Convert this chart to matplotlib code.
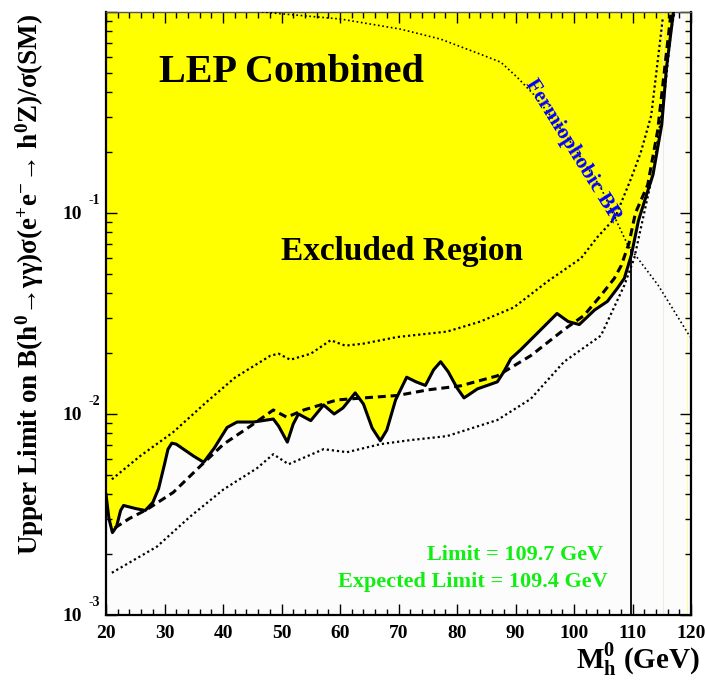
import numpy as np
import matplotlib
matplotlib.use("Agg")
import matplotlib.pyplot as plt
from matplotlib.ticker import MultipleLocator, LogLocator, NullFormatter

plt.rcParams['font.family'] = ['Liberation Serif', 'DejaVu Serif']
plt.rcParams['font.weight'] = 'bold'
plt.rcParams['mathtext.fontset'] = 'custom'
plt.rcParams['mathtext.rm'] = 'Liberation Serif:bold'
plt.rcParams['mathtext.it'] = 'Liberation Serif:bold'
plt.rcParams['mathtext.bf'] = 'Liberation Serif:bold'
plt.rcParams['mathtext.fallback'] = 'stix'

# Observed 95% CL upper limit (log10 of the ratio)
obs_mass = [20.0, 20.5, 21.1, 21.8, 22.5, 23.0, 25.0, 26.7, 28.0, 29.0, 30.0,
            30.6, 31.25, 32.0, 33.0, 35.0, 36.7, 38.5, 40.7, 42.4, 45.2, 48.6,
            49.5, 51.0, 52.0, 52.9, 55.0, 57.2, 59.0, 60.5, 62.6, 64.0, 65.5,
            66.9, 68.0, 69.5, 71.4, 73.0, 74.6, 76.0, 77.2, 78.5, 80.0, 81.2,
            83.5, 86.9, 88.0, 89.2, 90.9, 94.0, 97.1, 99.0, 100.9, 103.5,
            105.7, 107.4, 108.6, 109.8, 111.0, 112.5, 113.5, 115.0, 115.8,
            117.0]
obs_log = [-2.40, -2.52, -2.59, -2.56, -2.48, -2.455, -2.47, -2.48, -2.44,
           -2.37, -2.25, -2.175, -2.145, -2.15, -2.17, -2.21, -2.24, -2.17,
           -2.067, -2.04, -2.04, -2.025, -2.06, -2.14, -2.05, -2.0, -2.033,
           -1.955, -2.0, -1.97, -1.895, -1.95, -2.07, -2.133, -2.08, -1.93,
           -1.817, -1.84, -1.858, -1.78, -1.74, -1.79, -1.87, -1.92, -1.875,
           -1.84, -1.79, -1.725, -1.68, -1.59, -1.50, -1.54, -1.555, -1.483,
           -1.44, -1.375, -1.325, -1.21, -1.04, -0.90, -0.81, -0.56, -0.28,
           0.0]

# Median expected limit
exp_mass = [21.5, 24.0, 27.0, 31.5, 36.1, 40.1, 44.7, 48.6, 50.9, 53.8, 59.5,
            64.0, 69.8, 75.0, 80.6, 86.9, 92.6, 98.3, 101.7, 104.6, 106.9,
            108.1, 109.4, 110.5, 112.6, 114.3, 115.5, 116.6]
exp_log = [-2.567, -2.52, -2.475, -2.39, -2.26, -2.15, -2.06, -1.98, -2.016,
           -1.98, -1.93, -1.92, -1.908, -1.88, -1.86, -1.81, -1.71, -1.58,
           -1.51, -1.41, -1.325, -1.26, -1.15, -1.0, -0.86, -0.59, -0.28, 0.0]

# One-sigma band around the expectation
up_mass = [21.0, 25.8, 31.5, 37.2, 42.0, 48.1, 49.5, 51.5, 55.0, 58.4, 60.9,
           64.0, 69.8, 78.3, 84.0, 89.7, 95.5, 101.2, 104.0, 107.0, 109.8,
           111.4, 113.2, 115.2]
up_log = [-2.325, -2.21, -2.09, -1.94, -1.82, -1.71, -1.70, -1.73, -1.70,
          -1.633, -1.66, -1.65, -1.617, -1.59, -1.54, -1.47, -1.34, -1.225,
          -1.12, -1.025, -0.825, -0.70, -0.515, -0.025]

lo_mass = [21.0, 28.7, 34.4, 40.1, 45.8, 48.6, 51.2, 57.2, 61.2, 66.9, 72.0,
           78.3, 86.9, 92.6, 98.3, 104.6, 108.6, 110.3, 113.5, 115.4, 116.6,
           117.2]
lo_log = [-2.79, -2.66, -2.51, -2.375, -2.27, -2.20, -2.25, -2.175, -2.19,
          -2.15, -2.13, -2.11, -2.03, -1.925, -1.74, -1.61, -1.36, -1.225,
          -0.80, -0.425, -0.09, 0.0]

# Fermiophobic branching-ratio prediction
fp_mass = [40.0, 50.4, 60.1, 70.3, 77.2, 84.0, 87.5, 90.3, 93.1, 98.9, 104.6,
           109.2, 114.4, 119.5, 120.0]
fp_log = [0.02, -0.01, -0.035, -0.085, -0.135, -0.21, -0.25, -0.325, -0.41,
          -0.625, -0.875, -1.16, -1.36, -1.60, -1.62]

obs_limit = 109.7
exp_limit = 109.4

x_ticks = [20, 30, 40, 50, 60, 70, 80, 90, 100, 110, 120]
y_decades = [-3, -2, -1]

obs_y = 10.0 ** np.array(obs_log)
exp_y = 10.0 ** np.array(exp_log)
up_y = 10.0 ** np.array(up_log)
lo_y = 10.0 ** np.array(lo_log)
fp_y = 10.0 ** np.array(fp_log)

fig = plt.figure(figsize=(7.05, 6.83), dpi=100)
ax = fig.add_axes([106 / 705, 68 / 683, 585 / 705, 603 / 683])
ax.set_facecolor('#fcfcfc')
ax.set_xlim(20, 120)
ax.set_yscale('log')
ax.set_ylim(1e-3, 1.0)

# excluded region above the observed limit
ax.fill_between(obs_mass, obs_y, 1.0, color='#ffff00', lw=0, zorder=1)
ax.axvline(115.2, color='#ecece0', lw=0.7, zorder=1.5)
ax.axvline(119.4, color='#ffffa0', lw=0.7, zorder=1.5)

ax.plot(fp_mass, fp_y, color='black', lw=1.2, dashes=(1.0, 1.6), zorder=3)
ax.plot(up_mass, up_y, color='black', lw=1.6, dashes=(1.0, 1.3), zorder=3)
ax.plot(lo_mass, lo_y, color='black', lw=1.6, dashes=(1.0, 1.3), zorder=3)
ax.plot(exp_mass, exp_y, color='black', lw=2.2, dashes=(2.6, 1.6), zorder=4)
ax.plot(obs_mass, obs_y, color='black', lw=2.2, zorder=5)

# vertical marker at the observed limit
top = 10.0 ** np.interp(obs_limit, fp_mass, fp_log)
ax.vlines(obs_limit, 1e-3, top, color='black', lw=1.3, zorder=5)

# axes styling
for side in ['left', 'bottom', 'right']:
    ax.spines[side].set_linewidth(1.6)
ax.spines['top'].set_linewidth(1.0)
ax.spines['top'].set_color('#555555')
ax.xaxis.set_major_locator(MultipleLocator(10))
ax.xaxis.set_minor_locator(MultipleLocator(2))
ax.yaxis.set_major_locator(LogLocator(base=10, numticks=10))
ax.yaxis.set_minor_locator(LogLocator(base=10, subs=np.arange(2, 10), numticks=20))
ax.yaxis.set_major_formatter(NullFormatter())
ax.yaxis.set_minor_formatter(NullFormatter())
ax.tick_params(which='both', direction='in', top=True, right=True, width=1.0)
ax.tick_params(which='major', length=8)
ax.tick_params(which='minor', length=4)
ax.set_xticks(x_ticks)
ax.set_xticklabels([str(t) for t in x_ticks], fontsize=14, fontweight='bold')
ax.tick_params(axis='x', which='major', pad=7)

for d in y_decades:
    ax.annotate('10', xy=(0, 10.0 ** d), xycoords=('axes fraction', 'data'),
                xytext=(-17, -1), textcoords='offset points',
                ha='right', va='center', fontsize=14, fontweight='bold')
    ax.annotate(str(d), xy=(0, 10.0 ** d), xycoords=('axes fraction', 'data'),
                xytext=(-4, 9), textcoords='offset points',
                ha='right', va='center', fontsize=10, fontweight='bold')

ax.text(51.7, 0.5, 'LEP Combined', fontsize=29, fontweight='bold',
        ha='center', va='center', zorder=6)
ax.text(70.6, 0.064, 'Excluded Region', fontsize=24, fontweight='bold',
        ha='center', va='center', zorder=6)
ax.text(99.9, 0.205, 'Fermiophobic BR', fontsize=15.5, fontweight='bold',
        color='#0000ff', rotation=-58, rotation_mode='anchor',
        ha='center', va='center', zorder=6)
ax.text(105.0, 10 ** -2.70, 'Limit = %.1f GeV' % obs_limit, fontsize=16,
        fontweight='bold', color='#11ee11', ha='right', va='center', zorder=6)
ax.text(105.7, 10 ** -2.835, 'Expected Limit = %.1f GeV' % exp_limit,
        fontsize=16, fontweight='bold', color='#11ee11', ha='right',
        va='center', zorder=6)

fig.text(700 / 705, 4 / 683, r'$\mathrm{M_{h}^{0}}$ (GeV)', fontsize=21,
         fontweight='bold', ha='right', va='bottom')
fig.text(30 / 705, 1 - 14 / 683,
         'Upper Limit on B(h$^{0}$\u2192\u03b3\u03b3)\u03c3'
         '(e$^{+}$e$^{-}$\u2192 h$^{0}$Z)/\u03c3(SM)',
         fontsize=19.5, fontweight='bold', rotation=90, ha='center', va='top')

fig.savefig('out.png', dpi=100)
